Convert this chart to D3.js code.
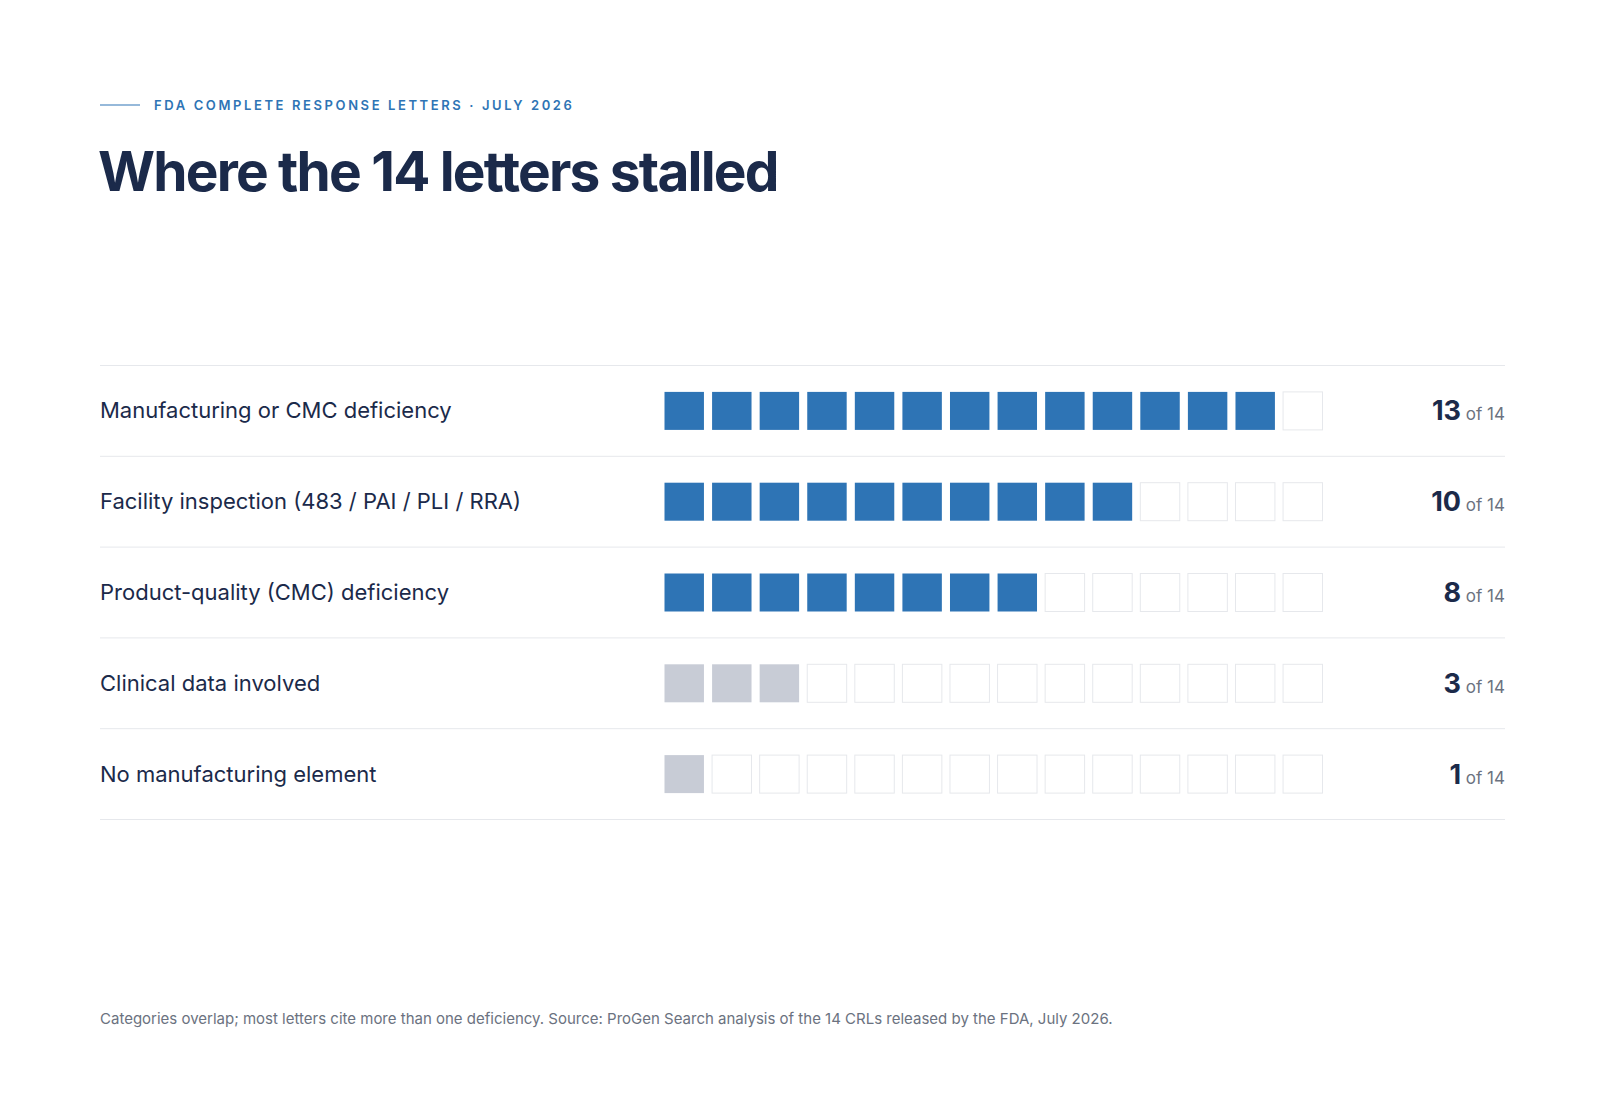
<!DOCTYPE html>
<html><head><meta charset="utf-8">
<script src="https://cdn.jsdelivr.net/npm/d3@7"></script>
<style>body{margin:0;background:#fff}text{font-family:Inter,"Noto Sans",sans-serif}</style>
</head><body><svg id="chart" width="1600" height="1100"></svg>
<script>
const categories = ['Manufacturing or CMC deficiency','Facility inspection (483 / PAI / PLI / RRA)','Product-quality (CMC) deficiency','Clinical data involved','No manufacturing element'];
const counts = [13, 10, 8, 3, 1];
const highlight = [true, true, true, false, false];
const total = 14;

const svg = d3.select('#chart');
const left = 100, right = 1505;

svg.append('line').attr('x1', left).attr('x2', 140).attr('y1', 105).attr('y2', 105)
  .attr('stroke', '#2e74b5').attr('stroke-width', 1.2);
svg.append('text').attr('x', 154).attr('y', 110).text('FDA COMPLETE RESPONSE LETTERS · JULY 2026')
  .attr('fill', '#2e74b5').attr('font-size', 13).attr('font-weight', 600).attr('letter-spacing', 2.6);
svg.append('text').attr('x', left - 2).attr('y', 191).text('Where the 14 letters stalled')
  .attr('fill', '#1b2a4a').attr('font-size', 55).attr('font-weight', 700).attr('letter-spacing', -1.8);

const y = d3.scaleBand().domain(categories).range([365, 819]);
const x = d3.scaleBand().domain(d3.range(total)).range([664, 1323]).paddingInner(0.15);

svg.selectAll('.rule').data([...categories.map(c => y(c)), 819]).enter().append('line')
  .attr('x1', left).attr('x2', right).attr('y1', d => d + 0.5).attr('y2', d => d + 0.5)
  .attr('stroke', '#e6e8ec');

const rows = svg.selectAll('.row').data(categories).enter().append('g')
  .attr('transform', d => `translate(0,${y(d)})`);
const h = y.bandwidth();

rows.append('text').attr('x', left).attr('y', h / 2 + 8).text(d => d)
  .attr('fill', '#1b2a4a').attr('font-size', 22);

rows.each(function (c, i) {
  d3.select(this).selectAll('rect').data(d3.range(total)).enter().append('rect')
    .attr('x', k => x(k) + 0.5).attr('y', h / 2 - 19 + 0.5)
    .attr('width', x.bandwidth() - 1).attr('height', 38)
    .attr('fill', k => k < counts[i] ? (highlight[i] ? '#2e74b5' : '#c8ccd6') : '#fff')
    .attr('stroke', k => k < counts[i] ? 'none' : '#e6e8ec');
  const t = d3.select(this).append('text').attr('x', right).attr('y', h / 2 + 10)
    .attr('text-anchor', 'end');
  t.append('tspan').text(counts[i]).attr('font-size', 27).attr('font-weight', 700).attr('fill', '#1b2a4a');
  t.append('tspan').text(' of ' + total).attr('font-size', 17).attr('fill', '#6b7280');
});

svg.append('text').attr('x', left).attr('y', 1024)
  .text('Categories overlap; most letters cite more than one deficiency. Source: ProGen Search analysis of the 14 CRLs released by the FDA, July 2026.')
  .attr('fill', '#6b7280').attr('font-size', 15);
</script></body></html>
